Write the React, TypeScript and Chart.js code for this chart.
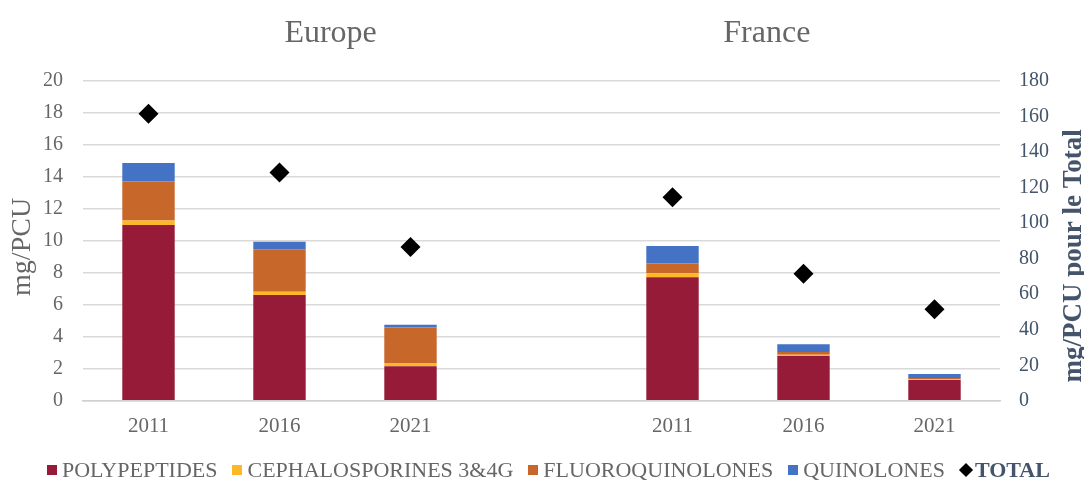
import React, { useEffect, useRef } from "react";
import { Chart, registerables } from "chart.js";

Chart.register(...registerables);

const categories = ["2011", "2016", "2021", "", "2011", "2016", "2021"];
const groupTitles = ["Europe", "France"];
const leftAxisTitle = "mg/PCU";
const rightAxisTitle = "mg/PCU pour le Total";
const polypeptides = [11.0, 6.62, 2.16, null, 7.73, 2.8, 1.3];
const cephalosporines = [0.27, 0.2, 0.18, null, 0.25, 0.08, 0.04];
const fluoroquinolones = [2.45, 2.65, 2.24, null, 0.6, 0.17, 0.08];
const quinolones = [1.15, 0.47, 0.17, null, 1.1, 0.48, 0.26];
const total = [161.5, 128.5, 86.5, null, 114.5, 71.5, 51.5];

const seriesLabels = ["POLYPEPTIDES", "CEPHALOSPORINES 3&4G", "FLUOROQUINOLONES", "QUINOLONES", "TOTAL"];
const seriesColors = ["#951B39", "#FDB827", "#C8672A", "#4472C4", "#000000"];

const FONT = "'Liberation Serif', 'Times New Roman', serif";
const GREY = "#666666";
const DARK = "#44546A";

const titlesPlugin = {
  id: "customTitles",
  afterDraw(chart: any) {
    const x = chart.scales.x;
    const area = chart.chartArea;
    const ctx = chart.ctx;
    ctx.save();
    ctx.font = `32px ${FONT}`;
    ctx.fillStyle = GREY;
    ctx.textAlign = "center";
    ctx.textBaseline = "alphabetic";
    const step = x.getPixelForValue(2) - x.getPixelForValue(1);
    ctx.fillText(groupTitles[0], x.getPixelForValue(1) + step * 0.39, 42);
    ctx.fillText(groupTitles[1], x.getPixelForValue(5) - step * 0.28, 42);

    const midY = (area.top + area.bottom) / 2;
    // left axis title
    ctx.save();
    ctx.translate(area.left - 60, midY + 6);
    ctx.rotate(-Math.PI / 2);
    ctx.font = `28px ${FONT}`;
    ctx.fillStyle = GREY;
    ctx.textBaseline = "middle";
    ctx.fillText(leftAxisTitle, 0, 0);
    ctx.restore();
    // right axis title
    ctx.save();
    ctx.translate(area.right + 74, midY + 15);
    ctx.rotate(-Math.PI / 2);
    ctx.font = `bold 27px ${FONT}`;
    ctx.fillStyle = DARK;
    ctx.textBaseline = "middle";
    ctx.fillText(rightAxisTitle, 0, 0);
    ctx.restore();
    ctx.restore();
  },
};

function LegendItem({ i }: { i: number }) {
  const isTotal = i === 4;
  return (
    <div style={{ display: "flex", alignItems: "center", marginRight: 15 }}>
      {isTotal ? (
        <span
          style={{
            display: "inline-block",
            width: 10,
            height: 10,
            background: "#000",
            transform: "rotate(45deg)",
            marginRight: 4,
            marginLeft: 1,
          }}
        />
      ) : (
        <span style={{ display: "inline-block", width: 10, height: 10, background: seriesColors[i], marginRight: 5 }} />
      )}
      <span
        style={{
          fontFamily: FONT,
          fontSize: 22,
          color: isTotal ? DARK : GREY,
          fontWeight: isTotal ? "bold" : "normal",
          whiteSpace: "nowrap",
        }}
      >
        {seriesLabels[i]}
      </span>
    </div>
  );
}

export default function App() {
  const ref = useRef<HTMLCanvasElement | null>(null);
  useEffect(() => {
    if (!ref.current) return;
    const barData = [polypeptides, cephalosporines, fluoroquinolones, quinolones];
    const datasets: any[] = barData.map((d, i) => ({
      type: "bar",
      label: seriesLabels[i],
      data: d,
      backgroundColor: seriesColors[i],
      borderWidth: 0,
      stack: "s",
      yAxisID: "y",
      barPercentage: 0.4,
      categoryPercentage: 1,
      order: 2,
    }));
    datasets.push({
      type: "line",
      label: seriesLabels[4],
      data: total,
      showLine: false,
      yAxisID: "y1",
      pointStyle: "rectRot",
      pointRadius: 10,
      pointHoverRadius: 10,
      backgroundColor: "#000",
      borderColor: "#000",
      borderWidth: 0,
      order: 1,
    });
    const chart = new Chart(ref.current, {
      type: "bar",
      data: { labels: categories, datasets },
      plugins: [titlesPlugin],
      options: {
        animation: false,
        responsive: false,
        maintainAspectRatio: false,
        layout: { padding: { top: 81, left: 0, right: 0, bottom: 39 } },
        plugins: {
          tooltip: { enabled: false },
          legend: { display: false },
        },
        scales: {
          x: {
            stacked: true,
            grid: { display: false },
            border: { color: "#d0d0d0", width: 1.5 },
            ticks: { color: GREY, font: { family: FONT, size: 21 }, padding: 5 },
          },
          y: {
            stacked: true,
            position: "left",
            min: 0,
            max: 20,
            afterFit: (s: any) => {
              s.width = 83;
            },
            ticks: { stepSize: 2, color: GREY, font: { family: FONT, size: 20 }, padding: 20 },
            grid: { color: "#d9d9d9", lineWidth: 1.5, drawTicks: false },
            border: { display: false },
          },
          y1: {
            position: "right",
            min: 0,
            max: 180,
            afterFit: (s: any) => {
              s.width = 84;
            },
            ticks: { stepSize: 20, color: DARK, font: { family: FONT, size: 20 }, padding: 19 },
            grid: { display: false, drawTicks: false },
            border: { display: false },
          },
        },
      } as any,
    });
    return () => chart.destroy();
  }, []);
  return (
    <div style={{ position: "absolute", left: 0, top: 0, width: 1084, height: 483, background: "#fff" }}>
      <canvas ref={ref} width={1084} height={483} style={{ display: "block" }} />
      <div
        style={{
          position: "absolute",
          left: 47,
          top: 457,
          display: "flex",
          alignItems: "center",
          height: 26,
        }}
      >
        {seriesLabels.map((_, i) => (
          <LegendItem key={i} i={i} />
        ))}
      </div>
    </div>
  );
}
